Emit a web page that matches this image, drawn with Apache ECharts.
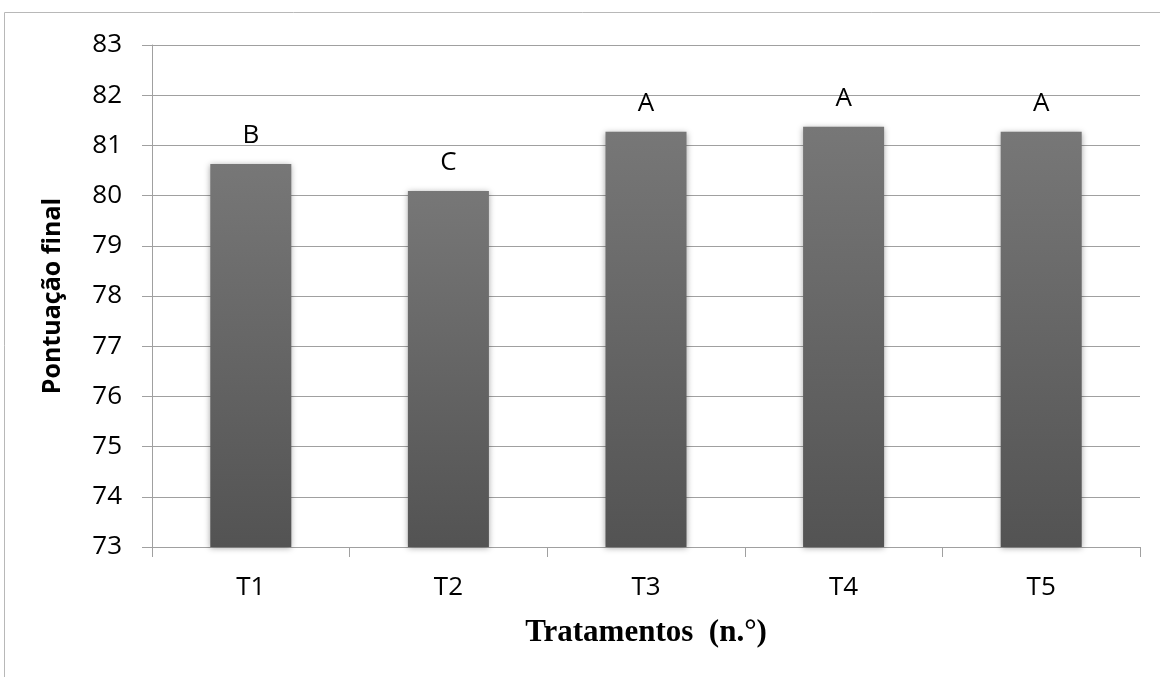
<!DOCTYPE html>
<html><head><meta charset="utf-8">
<script src="https://cdn.jsdelivr.net/npm/echarts@6/dist/echarts.min.js"></script>
<style>html,body{margin:0;padding:0;background:#fff}#c{width:1160px;height:677px}</style>
</head><body><div id="c"></div>
<script>
const categories = ['T1','T2','T3','T4','T5'];
const values = [80.63, 80.09, 81.27, 81.37, 81.27];
const letters = ['B','C','A','A','A'];
const yTicks = {min: 73, max: 83, interval: 1};

const chart = echarts.init(document.getElementById('c'));
chart.setOption({
  animation: false,
  backgroundColor: '#fff',
  graphic: [{type:'rect', shape:{x:4.5,y:12.5,width:1200,height:700}, style:{fill:'none', stroke:'#b8b8b8', lineWidth:1}}],
  grid: {left:152, right:20, top:45, bottom:130},
  xAxis: {
    type:'category', data: categories,
    axisLine:{lineStyle:{color:'#a0a0a0'}},
    axisTick:{show:true, length:10, lineStyle:{color:'#a0a0a0'}},
    axisLabel:{color:'#000', fontSize:26, fontFamily:'Open Sans', margin:28},
    name:'Tratamentos  (n.°)', nameLocation:'middle', nameGap:70,
    nameTextStyle:{color:'#000', fontSize:31, fontWeight:'bold', fontFamily:'Liberation Serif'}
  },
  yAxis: {
    type:'value', min:yTicks.min, max:yTicks.max, interval:yTicks.interval,
    axisLine:{show:true, lineStyle:{color:'#a0a0a0'}},
    axisTick:{show:true, length:10, lineStyle:{color:'#a0a0a0'}},
    splitLine:{lineStyle:{color:'#a0a0a0'}},
    axisLabel:{color:'#000', fontSize:26, fontFamily:'Open Sans', margin:30},
    name:'Pontuação final', nameLocation:'middle', nameGap:87,
    nameTextStyle:{color:'#000', fontSize:25, fontWeight:'bold', fontFamily:'Open Sans'}
  },
  series: [{
    type:'bar', data: values, barWidth:'41%',
    itemStyle:{
      color: new echarts.graphic.LinearGradient(0,0,0,1,[{offset:0,color:'#777777'},{offset:1,color:'#535353'}]),
      shadowColor:'rgba(0,0,0,0.35)', shadowBlur:6, shadowOffsetY:1
    },
    label:{show:true, position:'top', distance:15, color:'#000', fontSize:26, fontFamily:'Open Sans',
      formatter: p => letters[p.dataIndex]}
  }]
});
</script></body></html>
